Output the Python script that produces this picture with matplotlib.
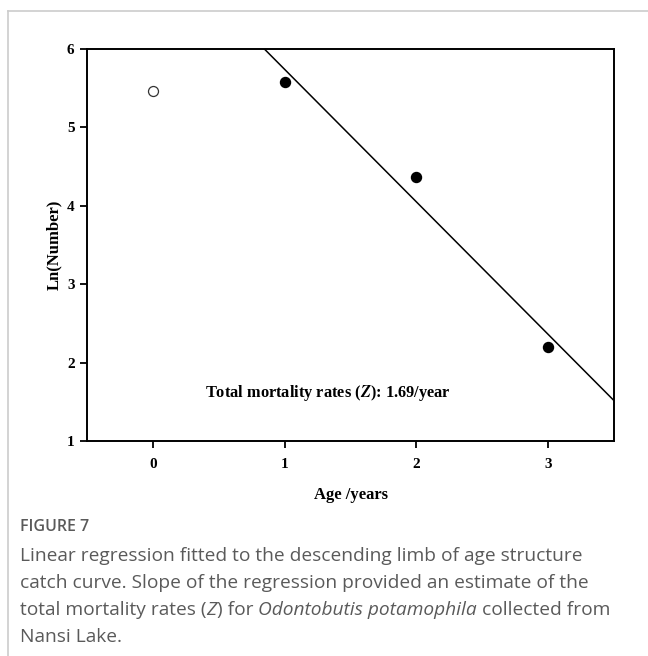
import numpy as np
import matplotlib
matplotlib.use('Agg')
import matplotlib.pyplot as plt
from matplotlib.lines import Line2D

# catch curve data
age_excluded = [0]
ln_excluded = [5.47]
age_fit = [1, 2, 3]
ln_fit = [5.58, 4.37, 2.20]

x_ticks = [0, 1, 2, 3]
y_ticks = [1, 2, 3, 4, 5, 6]

caption_lines = [
    'Linear regression fitted to the descending limb of age structure',
    'catch curve. Slope of the regression provided an estimate of the',
]


def PlotCatchCurve():

    plt.rcParams['mathtext.fontset'] = 'stix'

    fig = plt.figure(figsize=(6.48, 6.56), dpi=100)
    ax = fig.add_axes([0.1343, 0.3277, 0.8133, 0.5976])

    serif = 'Liberation Serif'

    # regression through the descending limb
    slope, intercept = np.polyfit(age_fit, ln_fit, 1)
    xx = np.array([-0.5, 3.5])
    ax.plot(xx, slope * xx + intercept, color='black', linewidth=1.1)

    ax.plot(age_fit, ln_fit, 'o', color='black', markersize=7.2)
    ax.plot(age_excluded, ln_excluded, 'o', markerfacecolor='white',
            markeredgecolor='#333333', markeredgewidth=0.9, markersize=7.2)

    ax.set_xlim(-0.5, 3.5)
    ax.set_ylim(1, 6)
    ax.set_xticks(x_ticks)
    ax.set_yticks(y_ticks)
    ax.set_xticklabels([str(v) for v in x_ticks], fontfamily=serif, fontweight='bold', fontsize=11)
    ax.set_yticklabels([str(v) for v in y_ticks], fontfamily=serif, fontweight='bold', fontsize=11)
    ax.tick_params(direction='out', length=5, width=1.3)
    ax.tick_params(axis='x', pad=7)
    ax.tick_params(axis='y', pad=4)
    for sp in ax.spines.values():
        sp.set_linewidth(1.4)

    ax.set_xlabel('Age /years', fontfamily=serif, fontweight='bold', fontsize=12, labelpad=12)
    ax.set_ylabel('Ln(Number)', fontfamily=serif, fontweight='bold', fontsize=12, labelpad=3)

    ax.text(1.33, 1.61, r'Total mortality rates ($\mathbfit{Z}$): ' + f'{abs(slope):.2f}/year',
            ha='center', va='center', fontfamily=serif, fontweight='bold', fontsize=11.8)

    # caption
    cap_color = '#5a5a5a'
    cap_size = 13.8
    fig.text(20 / 648, 1 - 527 / 656, 'FIGURE 7', fontfamily='Open Sans', fontsize=11.5,
             fontweight='semibold', color=cap_color, va='center', ha='left')
    y0 = 556
    for i, line in enumerate(caption_lines):
        fig.text(20 / 648, 1 - (y0 + 27 * i) / 656, line, fontfamily='Open Sans',
                 fontsize=cap_size, color=cap_color, va='center', ha='left')
    yl = 1 - (y0 + 27 * 2) / 656
    parts = [('total mortality rates (', 'normal'), ('Z', 'italic'), (') for ', 'normal'),
             ('Odontobutis potamophila', 'italic'), (' collected from', 'normal')]
    fig.canvas.draw()
    renderer = fig.canvas.get_renderer()
    x = 20 / 648
    for txt, style in parts:
        tt = fig.text(x, yl, txt, fontfamily='Open Sans', fontsize=cap_size, style=style,
                      color=cap_color, va='center', ha='left')
        bb = tt.get_window_extent(renderer=renderer)
        x += bb.width / fig.bbox.width
    fig.text(20 / 648, 1 - (y0 + 27 * 3) / 656, 'Nansi Lake.', fontfamily='Open Sans',
             fontsize=cap_size, color=cap_color, va='center', ha='left')

    # light frame at top and left
    fig.add_artist(Line2D([8 / 648, 1], [1 - 11 / 656, 1 - 11 / 656], color='#cccccc', linewidth=1.2))
    fig.add_artist(Line2D([8 / 648, 8 / 648], [0, 1 - 11 / 656], color='#cccccc', linewidth=1.2))

    plt.savefig('out.png', dpi=100)

    return 0


PlotCatchCurve()
